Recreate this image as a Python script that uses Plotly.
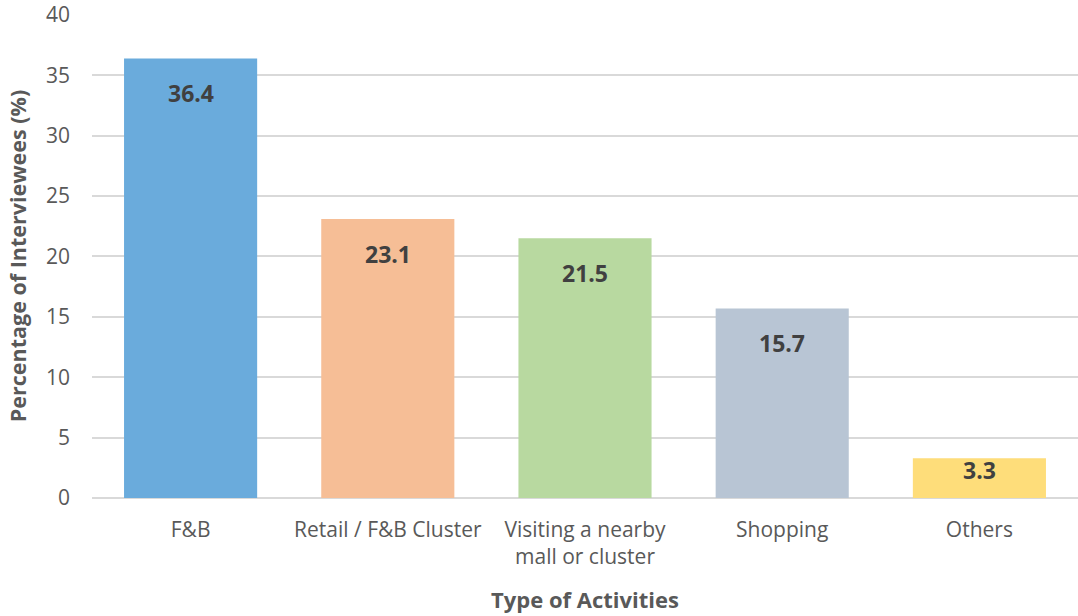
import plotly.graph_objects as go

categories = ["F&B", "Retail / F&B Cluster", "Visiting a nearby<br>mall or cluster", "Shopping", "Others"]
values = [36.4, 23.1, 21.5, 15.7, 3.3]
colors = ["#6aabdc", "#f6be96", "#b8d9a0", "#b8c5d4", "#fedd7a"]
y_ticks = [0, 5, 10, 15, 20, 25, 30, 35, 40]

FONT = "Open Sans"

W, H = 1078, 616
M = dict(l=92, r=0, t=14, b=118)
Y_MAX = 40.08
px_per_unit = (H - M["t"] - M["b"]) / Y_MAX

fig = go.Figure()
fig.add_trace(go.Bar(x=categories, y=values, marker=dict(color=colors, line=dict(width=0)),
                     hoverinfo="skip"))

for c, v in zip(categories, values):
    shift = min(35, v * px_per_unit / 2 - 8)
    fig.add_annotation(x=c, y=v, text=f"<b>{v}</b>", showarrow=False, yanchor="middle",
                       yshift=-shift, font=dict(family=FONT, size=23, color="#404040"))

fig.update_layout(
    width=W, height=H,
    margin=M,
    paper_bgcolor="white", plot_bgcolor="white",
    bargap=0.325,
    showlegend=False,
    font=dict(family=FONT, color="#595959"),
)
fig.update_xaxes(
    automargin=False,
    tickfont=dict(family=FONT, size=21, color="#595959"),
    ticks="", ticklabelstandoff=17,
    showline=False, showgrid=False,
    title=dict(text="<b>Type of Activities</b>", font=dict(family=FONT, size=22, color="#595959"), standoff=23),
)
fig.update_yaxes(
    automargin=False,
    range=[0, Y_MAX], tickvals=y_ticks,
    ticklabeloverflow="allow",
    tickfont=dict(family=FONT, size=21, color="#595959"),
    ticks="", ticklabelstandoff=21,
    showgrid=True, gridcolor="#d9d9d9", gridwidth=2,
    zeroline=True, zerolinecolor="#d9d9d9", zerolinewidth=2,
    title=dict(text="<b>Percentage of Interviewees (%)</b>", font=dict(family=FONT, size=21.5, color="#595959"), standoff=13),
)

fig.write_html("out.html", config={"displayModeBar": False},
               post_script="document.body.style.margin='0px';")
